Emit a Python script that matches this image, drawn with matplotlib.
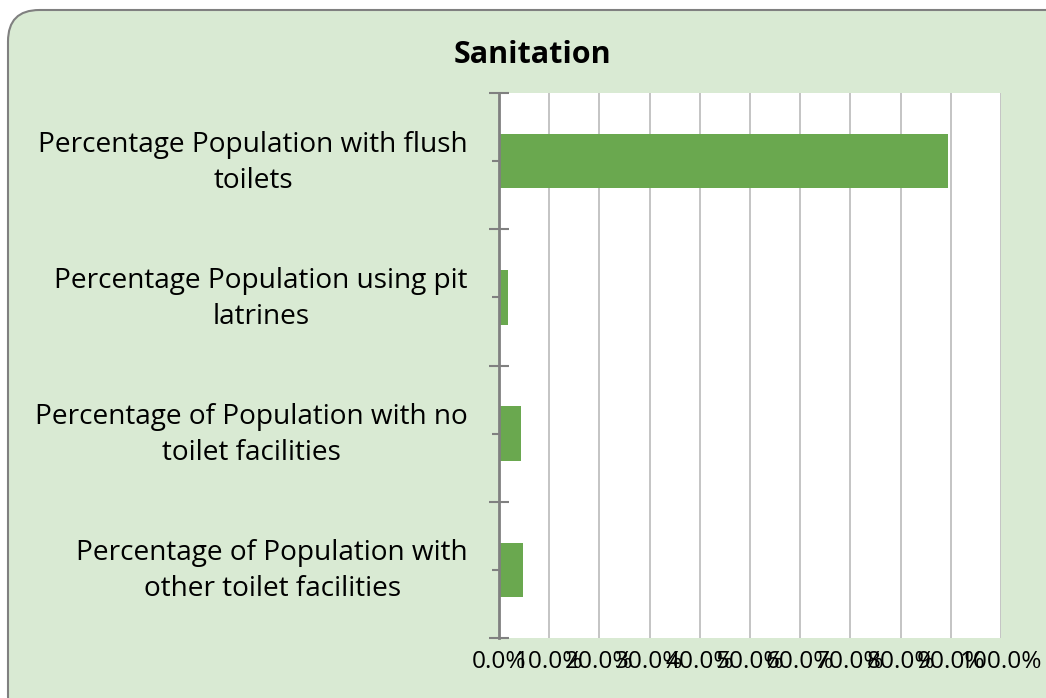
import matplotlib.pyplot as plt
from matplotlib.patches import FancyBboxPatch
from matplotlib.ticker import FuncFormatter
from matplotlib.transforms import ScaledTranslation
import numpy as np

categories = [
    "Percentage Population with flush\ntoilets",
    "Percentage Population using pit\nlatrines",
    "Percentage of Population with no\ntoilet facilities",
    "Percentage of Population with\nother toilet facilities",
]
shares = [89.4, 1.8, 4.4, 4.8]
x_ticks = [0, 10, 20, 30, 40, 50, 60, 70, 80, 90, 100]

BG = "#D9EAD3"
BAR = "#6AA84F"
FONT = "Open Sans"
W, H = 1046, 698

fig = plt.figure(figsize=(W / 100, H / 100), dpi=100)
fig.patch.set_facecolor("white")

# rounded chart-area frame, open to the right and bottom edges
frame = FancyBboxPatch(
    (8 / W, -30 / H), (W + 30) / W, (H - 10 + 30) / H,
    boxstyle="round,pad=0,rounding_size=0.03",
    transform=fig.transFigure, facecolor=BG, edgecolor="#808080",
    linewidth=1.5, mutation_aspect=W / H, zorder=-5,
)
fig.patches.append(frame)

ax = fig.add_axes([499 / W, 1 - 638 / H, (1001 - 499) / W, (638 - 93) / H])
ax.set_zorder(2)
ax.set_facecolor("white")

y = np.arange(len(categories))
ax.barh(y, shares, height=0.40, color=BAR, zorder=3)

ax.set_xlim(0, 100)
ax.set_ylim(len(categories) - 0.5, -0.5)
ax.set_xticks(x_ticks)
ax.xaxis.set_major_formatter(FuncFormatter(lambda v, _: f"{v:.1f}%"))
ax.grid(axis="x", color="#BFBFBF", linewidth=1.3, zorder=1)
ax.tick_params(axis="x", length=0, pad=9, labelsize=17.6, labelcolor="#000000")
for lab in ax.get_xticklabels():
    lab.set_fontfamily(FONT)

# category boundaries as major ticks, labels sit on minor ticks at the centres
ax.set_yticks(np.arange(len(categories) + 1) - 0.5)
ax.set_yticklabels([])
ax.set_yticks(y, minor=True)
ax.set_yticklabels(categories, minor=True, fontsize=20.2, fontfamily=FONT,
                   multialignment="center", linespacing=1.38)
ax.tick_params(axis="y", which="major", direction="inout", length=14.4,
               width=1.5, color="#808080")
ax.tick_params(axis="y", which="minor", direction="inout", length=10.8,
               width=1.5, color="#808080", pad=17)
# nudge the two-line labels up a little so they sit centred on the bars
lift = ScaledTranslation(0, 6 / 100, fig.dpi_scale_trans)
for lab in ax.get_yticklabels(minor=True):
    lab.set_transform(lab.get_transform() + lift)

for side in ("top", "right", "bottom"):
    ax.spines[side].set_visible(False)
ax.spines["left"].set_color("#808080")
ax.spines["left"].set_linewidth(2)
ax.spines["left"].set_zorder(4)

fig.text(532 / W, 1 - 55 / H, "Sanitation", ha="center", va="center",
         fontsize=22, fontweight="bold", fontfamily=FONT)

fig.savefig("out.png", dpi=100)
